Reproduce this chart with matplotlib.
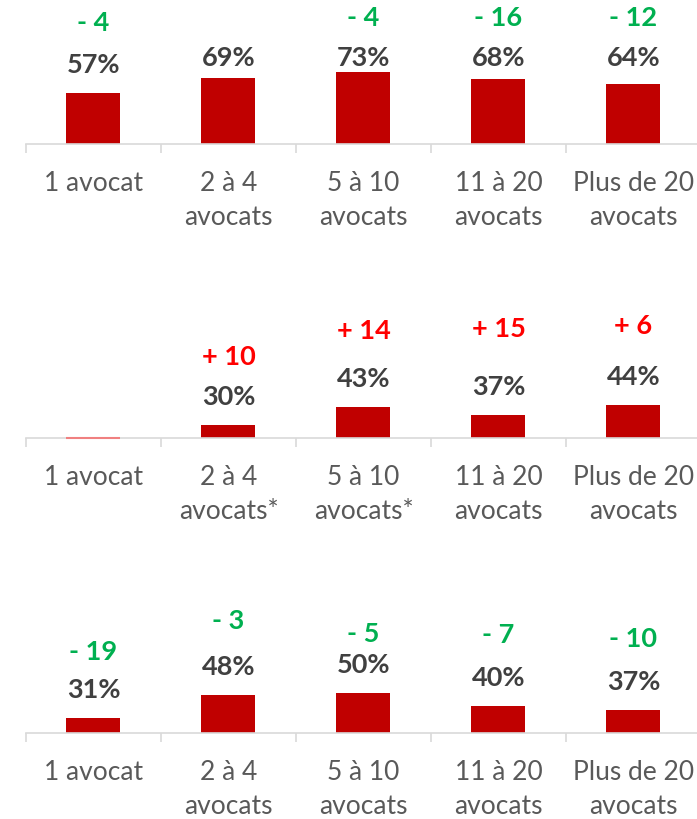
import numpy as np
import matplotlib.pyplot as plt

plt.rcParams['font.family'] = ['Lato', 'DejaVu Sans']

# donnees
categories = ['1 avocat', '2 à 4\navocats', '5 à 10\navocats', '11 à 20\navocats', 'Plus de 20\navocats']
categories_2 = ['1 avocat', '2 à 4\navocats*', '5 à 10\navocats*', '11 à 20\navocats', 'Plus de 20\navocats']

values_1 = [57, 69, 73, 68, 64]
deltas_1 = [-4, None, -4, -16, -12]

values_2 = [None, 30, 43, 37, 44]
deltas_2 = [None, 10, 14, 15, 6]

values_3 = [31, 48, 50, 40, 37]
deltas_3 = [-19, -3, -5, -7, -10]

W, H = 697, 819
fig = plt.figure(figsize=(W / 100, H / 100), dpi=100)

bar_col = '#c00000'
txt_col = '#404040'
tick_col = '#595959'
green = '#00b050'
red = '#ff0000'

# mise en page : (ligne d'axe en px, base, px par %, plafond label, ecart delta en px)
panels = [
    (values_1, deltas_1, categories, 143.5, 18.8, 1.31, 85.5, [42, 40, 40, 40, 40]),
    (values_2, deltas_2, categories_2, 437.7, 21.4, 1.43, 200, [40, 40, 48, 58, 51]),
    (values_3, deltas_3, categories, 732.7, 20.0, 1.33, 200, [38, 46, 31, 43, 43]),
]

ax_h = 135
for vals, dels, cats, axis_y, base, slope, cap, gaps in panels:
    ax = fig.add_axes([26 / W, (H - axis_y) / H, 675 / W, ax_h / H])
    x = np.arange(len(cats))
    heights = [(v if v is not None else base) - base for v in vals]
    ax.bar(x, heights, bottom=base, width=0.4, color=bar_col, zorder=2)
    if vals[0] is None:
        ax.plot([-0.2, 0.2], [base, base], color='#f08080', lw=1.5, zorder=3,
                solid_capstyle='butt', clip_on=False)
    ax.set_xlim(-0.5, len(cats) - 0.5)
    ax.set_ylim(base, base + ax_h / slope)

    for i, v in enumerate(vals):
        if v is None:
            continue
        px = min((v - base) * slope + 28, cap)
        ly = base + px / slope
        ax.text(i, ly, f'{v}%', ha='center', va='center', fontsize=19.5,
                fontweight='bold', color=txt_col, clip_on=False)
        d = dels[i]
        if d is None:
            continue
        s = f'+ {d}' if d > 0 else f'- {abs(d)}'
        ax.annotate(s, (i, ly), xytext=(0, gaps[i] * 0.72), textcoords='offset points',
                    ha='center', va='center', fontsize=19.5, fontweight='bold',
                    color=red if d > 0 else green, annotation_clip=False)

    for sp in ['top', 'right', 'left']:
        ax.spines[sp].set_visible(False)
    ax.spines['bottom'].set_color('#d9d9d9')
    ax.spines['bottom'].set_linewidth(1.2)
    ax.set_yticks([])
    ax.set_xticks(x)
    ax.set_xticklabels(cats, fontsize=19, color=tick_col, linespacing=1.42)
    ax.set_xticks(np.arange(-0.5, len(cats)), minor=True)
    ax.tick_params(axis='x', which='major', length=0, pad=20)
    ax.tick_params(axis='x', which='minor', length=6.5, width=1.2, color='#d9d9d9')
    ax.patch.set_visible(False)

fig.savefig('out.png', dpi=100)
